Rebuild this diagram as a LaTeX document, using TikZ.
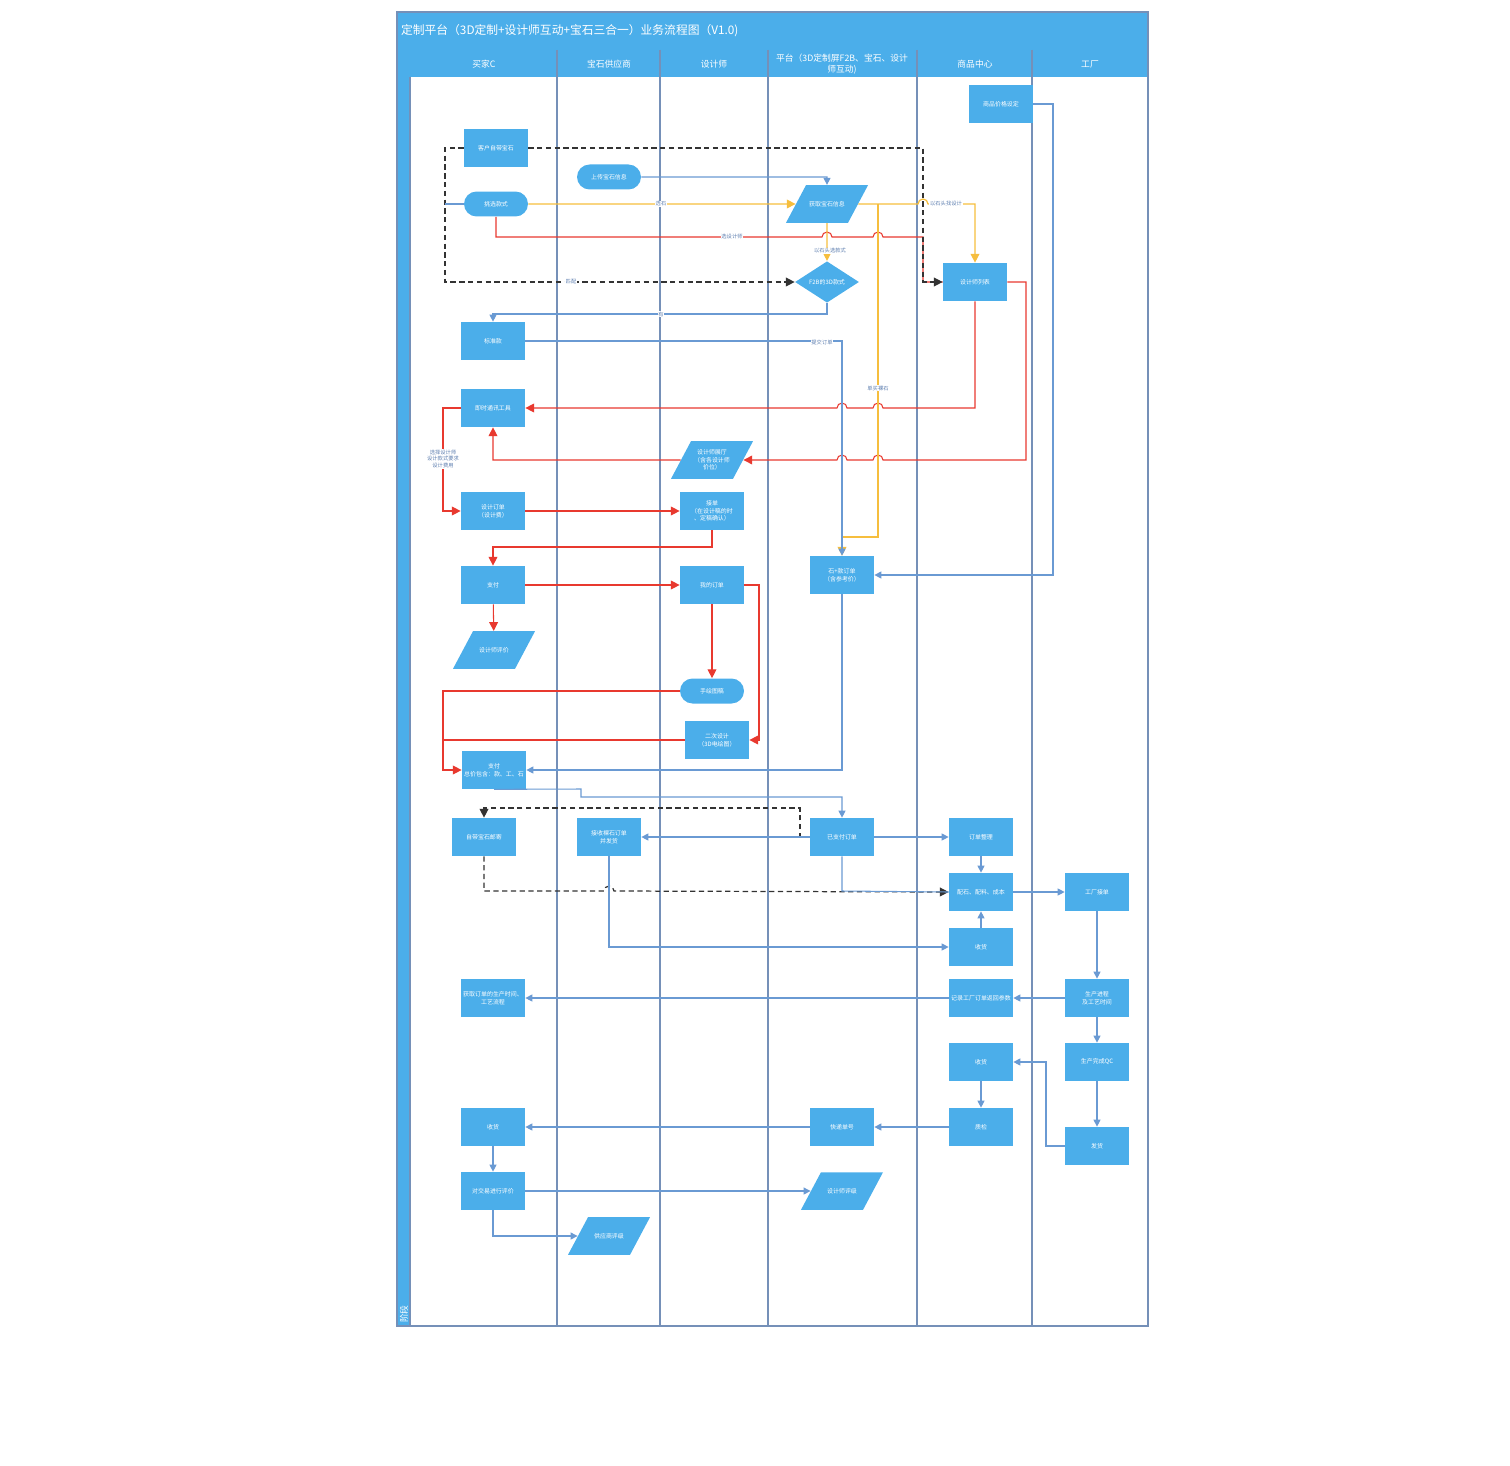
\documentclass[tikz,border=0pt]{standalone}
\usepackage{fontspec}
\setmainfont{Noto Sans CJK SC}
\usetikzlibrary{arrows.meta,shapes.geometric}
\definecolor{boxblue}{HTML}{4BAEEA}
\definecolor{lineblue}{HTML}{6A9AD3}
\definecolor{laneline}{HTML}{7590B8}
\definecolor{flowred}{HTML}{E8392F}
\definecolor{flowyellow}{HTML}{F6BE3E}
\definecolor{labelgray}{HTML}{5E7FB0}

\begin{document}
\begin{tikzpicture}[x=0.02cm,y=-0.02cm,
  proc/.style={fill=boxblue,text=white,minimum width=1.28cm,minimum height=0.76cm,inner sep=0pt,align=center,font=\fontsize{3.4}{4.4}\selectfont},
  term/.style={proc,rounded corners=0.25cm,minimum height=0.5cm},
  io/.style={proc,trapezium,trapezium left angle=62,trapezium right angle=118,minimum height=0pt,minimum width=1.64cm,trapezium stretches body,inner xsep=0pt,inner ysep=9.1pt},
  io3/.style={io,inner ysep=4.7pt},
  choice/.style={proc,diamond,minimum width=1.28cm,minimum height=0.76cm},
  lbl/.style={fill=white,text=labelgray,inner sep=0.4pt,font=\fontsize{3}{3.8}\selectfont,align=center},
  head/.style={text=white,font=\fontsize{5}{6}\selectfont,align=center},
  blueflow/.style={draw=lineblue,line width=0.6pt,-{Triangle[length=4pt,width=4pt]}},
  redflow/.style={draw=flowred,line width=0.6pt,-{Triangle[length=5pt,width=5pt]}},
  yellowflow/.style={draw=flowyellow,line width=0.7pt,-{Triangle[length=5pt,width=5pt]}},
  dashflow/.style={draw=black!80,line width=0.7pt,dash pattern=on 3pt off 2pt,-{Triangle[length=5pt,width=5pt]}}]
\path[use as bounding box] (0,0) rectangle (1510,1466);

% pool, title and lanes
\fill[boxblue] (397,12) rectangle (1148,50);
\fill[boxblue] (397,50) rectangle (1148,77);
\fill[boxblue] (397,77) rectangle (410,1326);
\foreach \x in {557,660,768,917,1032}
  \draw[laneline,line width=0.8pt] (\x,50) -- (\x,1326);
\draw[laneline,line width=0.8pt] (410,77) -- (410,1326);
\draw[laneline,line width=0.8pt] (397,12) rectangle (1148,1326);
\node[text=white,anchor=west,inner sep=1pt,font=\fontsize{6.7}{8}\selectfont] (title) at (399,31) {定制平台（3D定制+设计师互动+宝石三合一）业务流程图（V1.0)};
\node[head] (laneC) at (484,64) {买家C};
\node[head] (laneGem) at (609,64) {宝石供应商};
\node[head] (laneDes) at (714,64) {设计师};
\node[head] (lanePlat) at (842,64) {平台（3D定制屏F2B、宝石、设计\\师互动)};
\node[head] (laneGoods) at (975,64) {商品中心};
\node[head] (laneFac) at (1090,64) {工厂};
\node[head,rotate=90] (stage) at (404,1314) {阶段};

% nodes
\node[proc] (custGem) at (496,148) {客户自带宝石};
\node[term] (upload) at (609,177) {上传宝石信息};
\node[term] (pick) at (496,204) {挑选款式};
\node[io] (getGem) at (827,204) {获取宝石信息};
\node[choice] (f2b) at (827,282) {F2B的3D款式};
\node[proc] (price) at (1001,104) {商品价格设定};
\node[proc] (dList) at (975,282) {设计师列表};
\node[proc] (std) at (493,341) {标准款};
\node[proc] (im) at (493,408) {即时通讯工具};
\node[io3] (hall) at (712,460) {设计师展厅\\（含各设计师\\价位）};
\node[proc] (dOrder) at (493,511) {设计订单\\（设计费）};
\node[proc] (accept) at (712,511) {接单\\（在设计稿的时\\、定稿确认）};
\node[proc] (stoneOrder) at (842,575) {石+款订单\\（含参考价）};
\node[proc] (pay1) at (493,585) {支付};
\node[proc] (myOrder) at (712,585) {我的订单};
\node[io] (dRate1) at (494,650) {设计师评价};
\node[term] (sketch) at (712,691) {手绘图稿};
\node[proc] (second) at (717,740) {二次设计\\（3D电绘图）};
\node[proc] (pay2) at (494,770) {支付\\总价包含：款、工、石};
\node[proc] (mail) at (484,837) {自带宝石邮寄};
\node[proc] (recv) at (609,837) {接收裸石订单\\并发货};
\node[proc] (paid) at (842,837) {已支付订单};
\node[proc] (arrange) at (981,837) {订单整理};
\node[proc] (match) at (981,892) {配石、配料、成本};
\node[proc] (facTake) at (1097,892) {工厂接单};
\node[proc] (get1) at (981,947) {收货};
\node[proc] (info) at (493,998) {获取订单的生产时间、\\工艺流程};
\node[proc] (record) at (981,998) {记录工厂订单返回参数};
\node[proc] (progress) at (1097,998) {生产进程\\及工艺时间};
\node[proc] (get2) at (981,1062) {收货};
\node[proc] (qc) at (1097,1062) {生产完成QC};
\node[proc] (check) at (981,1127) {质检};
\node[proc] (express) at (842,1127) {快递单号};
\node[proc] (ship) at (1097,1146) {发货};
\node[proc] (get3) at (493,1127) {收货};
\node[proc] (eval) at (493,1191) {对交易进行评价};
\node[io] (dRate) at (842,1191) {设计师评级};
\node[io] (sRate) at (609,1236) {供应商评级};

% red flows
\draw[draw=flowred,line width=0.6pt] (pick.south) -- (496,237) -- (822,237) arc[start angle=180,end angle=0,radius=0.1cm] -- (873,237) arc[start angle=180,end angle=0,radius=0.1cm] -- (923,237) -- (923,282) -- (dList.west);
\draw[redflow] (dList.south) -- (975,408) -- (883,408) arc[start angle=0,end angle=180,radius=0.1cm] -- (847,408) arc[start angle=0,end angle=180,radius=0.1cm] -- (im.east);
\draw[redflow] (dList.east) -- (1026,282) -- (1026,460) -- (883,460) arc[start angle=0,end angle=180,radius=0.1cm] -- (847,460) arc[start angle=0,end angle=180,radius=0.1cm] -- (hall.east);
\draw[redflow] (hall.west) -- (493,460) -- (im.south);
\draw[redflow] (im.west) -- (443,408) |- (dOrder.west);
\draw[redflow] (dOrder) -- (accept);
\draw[redflow] (accept.south) -- (712,547) -| (pay1.north);
\draw[redflow] (pay1) -- (myOrder);
\draw[redflow] (pay1) -- (dRate1);
\draw[redflow] (myOrder) -- (sketch);
\draw[redflow] (myOrder.east) -- (759,585) |- (second.east);
\draw[redflow] (sketch.west) -- (443,691) |- (pay2.west);
\draw[draw=flowred,line width=0.6pt] (second.west) -- (443,740);

% yellow flows
\draw[yellowflow] (pick) -- (getGem);
\draw[yellowflow] (getGem) -- (f2b);
\draw[yellowflow] (getGem.east) -- (918,204) arc[start angle=180,end angle=0,radius=0.1cm] -- (975,204) -- (dList.north);
\draw[yellowflow] (878,204) -- (878,537) -- (842,537) -- (stoneOrder.north);

% dashed flows
\draw[dashflow] (custGem.east) -- (923,148) |- (dList.west);
\draw[dashflow] (custGem.west) -- (445,148) |- (f2b.west);
\draw[dashflow] (paid.west) -- (800,837) -- (800,808) -| (mail.north);
\draw[dashflow] (mail.south) -- (484,891) -- (604,891) arc[start angle=180,end angle=0,radius=0.1cm] -- (match.west);

% blue flows
\draw[draw=lineblue,line width=0.6pt] (445,204) -- (pick.west);
\draw[blueflow] (upload.east) -- (827,177) -- (getGem.north);
\draw[blueflow] (f2b.south) -- (827,314) -| (std.north);
\draw[blueflow] (std.east) -- (842,341) -- (stoneOrder.north);
\draw[blueflow] (price.east) -- (1053,104) |- (stoneOrder.east);
\draw[blueflow] (stoneOrder.south) -- (842,770) -- (pay2.east);
\draw[blueflow] (pay2.south) -- (581,789) -- (581,797) -| (paid.north);
\draw[blueflow] (paid) -- (recv);
\draw[blueflow] (paid) -- (arrange);
\draw[draw=lineblue,line width=0.6pt] (paid.south) -- (842,891) -- (match.west);
\draw[blueflow] (recv.south) -- (609,947) -- (get1.west);
\draw[blueflow] (arrange) -- (match);
\draw[blueflow] (get1) -- (match);
\draw[blueflow] (match) -- (facTake);
\draw[blueflow] (facTake) -- (progress);
\draw[blueflow] (progress) -- (record);
\draw[blueflow] (record) -- (info);
\draw[blueflow] (progress) -- (qc);
\draw[blueflow] (qc) -- (ship);
\draw[blueflow] (ship.west) -- (1046,1146) |- (get2.east);
\draw[blueflow] (get2) -- (check);
\draw[blueflow] (check) -- (express);
\draw[blueflow] (express) -- (get3);
\draw[blueflow] (get3) -- (eval);
\draw[blueflow] (eval) -- (dRate);
\draw[blueflow] (eval.south) |- (sRate.west);

% line labels
\node[lbl] (lStone) at (661,204) {选石};
\node[lbl] (lDes) at (732,237) {选设计师};
\node[lbl] (lStyle) at (830,251) {以石头选款式};
\node[lbl] (lFind) at (946,204) {以石头找设计};
\node[lbl] (lMatch) at (571,282) {匹配};
\node[lbl] (lHave) at (661,314) {有};
\node[lbl] (lSubmit) at (822,342) {提交订单};
\node[lbl] (lBuy) at (878,388) {单买裸石};
\node[lbl] (lChoose) at (443,459) {选择设计师\\设计款式要求\\设计费用};
\end{tikzpicture}
\end{document}
